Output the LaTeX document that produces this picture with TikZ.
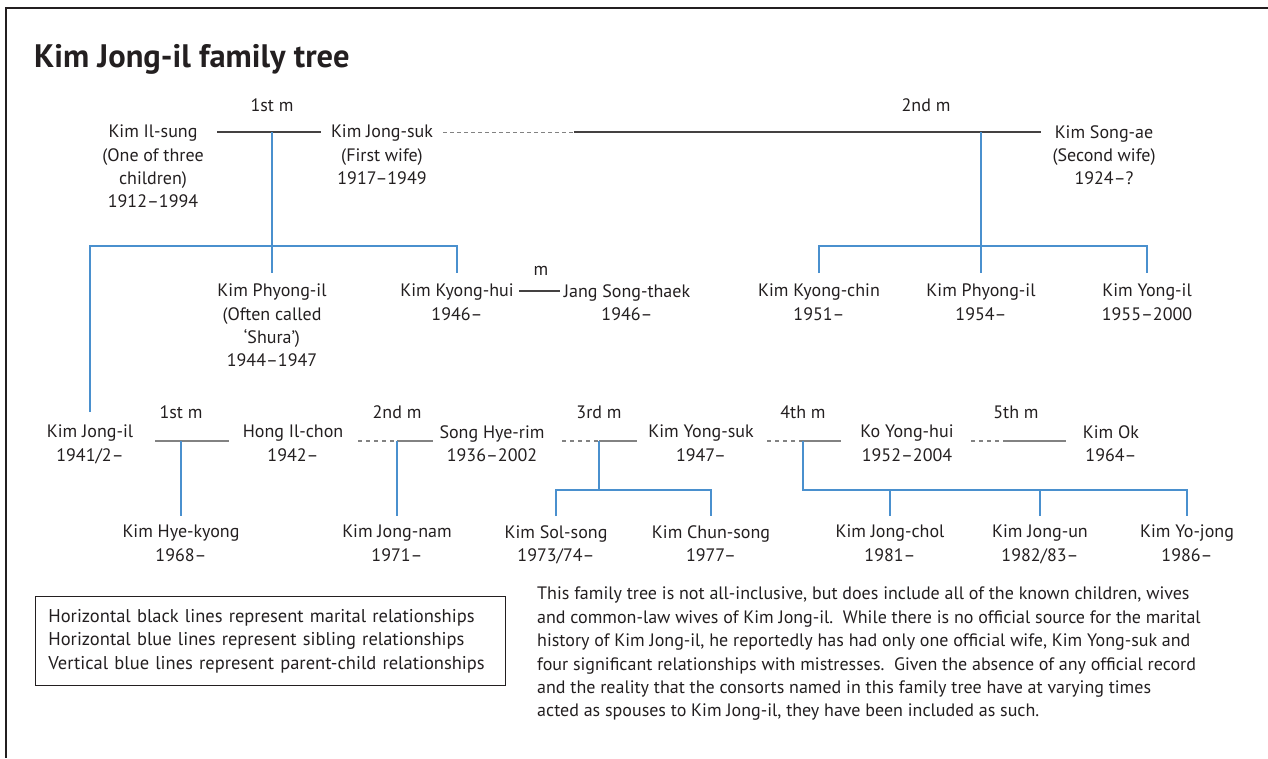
\documentclass[tikz,border=0pt]{standalone}
\usepackage{fontspec}
\setmainfont{PT Sans}
\usetikzlibrary{positioning,calc}
\definecolor{inkgray}{RGB}{35,31,32}
\definecolor{kinblue}{RGB}{74,144,206}
\definecolor{midgray}{RGB}{130,130,130}
\tikzset{
  person/.style={align=center,anchor=north,inner sep=0pt,text=inkgray,
    font=\fontsize{18}{23.3}\selectfont},
  wedlabel/.style={anchor=base,inner sep=0pt,text=inkgray,font=\fontsize{18}{20}\selectfont},
  wed/.style={draw=inkgray!85,line width=1.1pt},
  wedlow/.style={draw=midgray,line width=1.8pt},
  affair/.style={draw=midgray,line width=1.2pt,dash pattern=on 4pt off 4pt},
  kin/.style={draw=kinblue,line width=1.2pt}
}

\begin{document}
\begin{tikzpicture}[x=1pt,y=-1pt]
  \useasboundingbox (0,0) rectangle (1268,758);
  \draw[inkgray,line width=2pt] (1268,8) -- (6,8) -- (6,758);
  \node[anchor=base west,inner sep=0pt,text=inkgray,font=\fontsize{32.5}{38}\selectfont\bfseries] (title) at (34,67) {Kim Jong-il family tree};

  % first generation
  \node[person] (ilsung) at (153,125) {Kim Il-sung\\(One of three\\children)\\1912--1994};
  \node[person] (jongsuk) at (382,125) {Kim Jong-suk\\(First wife)\\1917--1949};
  \node[person] (songae) at (1104,125) {Kim Song-ae\\(Second wife)\\1924--?};
  \coordinate (w1) at (272,132);
  \coordinate (w2) at (981,132);
  \coordinate (ilsungR) at (217,132);
  \coordinate (jongsukL) at (321,132);
  \coordinate (jongsukR) at (443,132);
  \coordinate (wdash) at (574,132);
  \coordinate (songaeL) at (1041,132);
  \node[wedlabel] (w1lab) at (272,111) {1st m};
  \node[wedlabel] (w2lab) at (926,111) {2nd m};
  \draw[wed] (ilsungR) -- (jongsukL);
  \draw[affair,line width=0.9pt,dash pattern=on 4pt off 3pt] (jongsukR) -- (wdash);
  \draw[wed] (wdash) -- (songaeL);

  % second generation
  \node[person] (phyong1) at (272,284) {Kim Phyong-il\\(Often called\\`Shura')\\1944--1947};
  \node[person] (kyonghui) at (457,284) {Kim Kyong-hui\\1946--};
  \node[person] (songthaek) at (627,284) {Jang Song-thaek\\1946--};
  \node[person] (kyongchin) at (819,284) {Kim Kyong-chin\\1951--};
  \node[person] (phyong2) at (981,284) {Kim Phyong-il\\1954--};
  \node[person] (yongil) at (1147,284) {Kim Yong-il\\1955--2000};
  \coordinate (sib1) at (272,246);
  \coordinate (sib2) at (981,246);
  \coordinate (kyonghuiR) at (519,291);
  \coordinate (songthaekL) at (560,291);
  \node[wedlabel] (mlab) at (541,275) {m};
  \draw[wed] (kyonghuiR) -- (songthaekL);

  % third generation
  \node[person] (jongil) at (90,425) {Kim Jong-il\\1941/2--};
  \node[person] (ilchon) at (293,425) {Hong Il-chon\\1942--};
  \node[person] (hyerim) at (492,425) {Song Hye-rim\\1936--2002};
  \node[person] (yongsuk) at (701,425) {Kim Yong-suk\\1947--};
  \node[person] (yonghui) at (907,425) {Ko Yong-hui\\1952--2004};
  \node[person] (kimok) at (1111,425) {Kim Ok\\1964--};
  \coordinate (j1) at (181,441);
  \coordinate (j2) at (397,441);
  \coordinate (j3) at (599,441);
  \coordinate (j4) at (803,441);
  \coordinate (j5) at (1007,441);
  \node[wedlabel] (j1lab) at (181,418) {1st m};
  \node[wedlabel] (j2lab) at (397,418) {2nd m};
  \node[wedlabel] (j3lab) at (599,418) {3rd m};
  \node[wedlabel] (j4lab) at (803,418) {4th m};
  \node[wedlabel] (j5lab) at (1016,418) {5th m};
  \coordinate (j1L) at (155,441);
  \coordinate (j1R) at (229,441);
  \coordinate (j2L) at (358,441);
  \coordinate (j2R) at (433,441);
  \coordinate (j3L) at (562,441);
  \coordinate (j3R) at (637,441);
  \coordinate (j4L) at (767,441);
  \coordinate (j4R) at (841,441);
  \coordinate (j5L) at (971,441);
  \coordinate (j5R) at (1066,441);
  \draw[wedlow] (j1L) -- (j1R);
  \draw[affair] (j2L) -- (j2);
  \draw[wedlow] (j2) -- (j2R);
  \draw[affair] (j3L) -- (j3);
  \draw[wedlow] (j3) -- (j3R);
  \draw[affair] (j4L) -- (j4);
  \draw[wedlow] (j4) -- (j4R);
  \draw[affair] (j5L) -- (j5);
  \draw[wedlow] (j5) -- (j5R);

  % children
  \node[person] (hyekyong) at (181,525) {Kim Hye-kyong\\1968--};
  \node[person] (jongnam) at (397,525) {Kim Jong-nam\\1971--};
  \node[person] (solsong) at (556,525) {Kim Sol-song\\1973/74--};
  \node[person] (chunsong) at (711,525) {Kim Chun-song\\1977--};
  \node[person] (jongchol) at (890,525) {Kim Jong-chol\\1981--};
  \node[person] (jongun) at (1040,525) {Kim Jong-un\\1982/83--};
  \node[person] (yojong) at (1187,525) {Kim Yo-jong\\1986--};
  \coordinate (sib3) at (599,490);
  \coordinate (sib4) at (803,490);

  % parent-child and sibling lines
  \draw[kin] (w1) -- ([yshift=11pt]phyong1.north);
  \draw[kin] ([yshift=13pt]jongil.north) -- (jongil.north |- sib1) -- (kyonghui.north |- sib1) -- ([yshift=11pt]kyonghui.north);
  \draw[kin] (w2) -- ([yshift=11pt]phyong2.north);
  \draw[kin] ([yshift=11pt]kyongchin.north) -- (kyongchin.north |- sib2) -- (yongil.north |- sib2) -- ([yshift=11pt]yongil.north);
  \draw[kin] (j1) -- ([yshift=9pt]hyekyong.north);
  \draw[kin] (j2) -- ([yshift=9pt]jongnam.north);
  \draw[kin] (j3) -- (sib3);
  \draw[kin] ([yshift=9pt]solsong.north) -- (solsong.north |- sib3) -- (chunsong.north |- sib3) -- ([yshift=9pt]chunsong.north);
  \draw[kin] (j4) -- (sib4) -- (yojong.north |- sib4) -- ([yshift=9pt]yojong.north);
  \draw[kin] (jongchol.north |- sib4) -- ([yshift=9pt]jongchol.north);
  \draw[kin] (jongun.north |- sib4) -- ([yshift=9pt]jongun.north);

  % key and note
  \node[draw=inkgray,line width=0.8pt,anchor=north west,text width=444pt,align=left,
    inner xsep=13pt,inner ysep=13pt,text=inkgray,font=\fontsize{18.5}{23.3}\selectfont] (legend) at (35,596)
    {Horizontal black lines represent marital relationships\\
     Horizontal blue lines represent sibling relationships\\
     Vertical blue lines represent parent-child relationships};
  \node[anchor=north west,align=left,inner sep=0pt,text=inkgray,font=\fontsize{18}{23.4}\selectfont] (note) at (537,587)
    {This family tree is not all-inclusive, but does include all of the known children, wives\\
     and common-law wives of Kim Jong-il.\ \ While there is no official source for the marital\\
     history of Kim Jong-il, he reportedly has had only one official wife, Kim Yong-suk and\\
     four significant relationships with mistresses.\ \ Given the absence of any official record\\
     and the reality that the consorts named in this family tree have at varying times\\
     acted as spouses to Kim Jong-il, they have been included as such.};
\end{tikzpicture}
\end{document}
